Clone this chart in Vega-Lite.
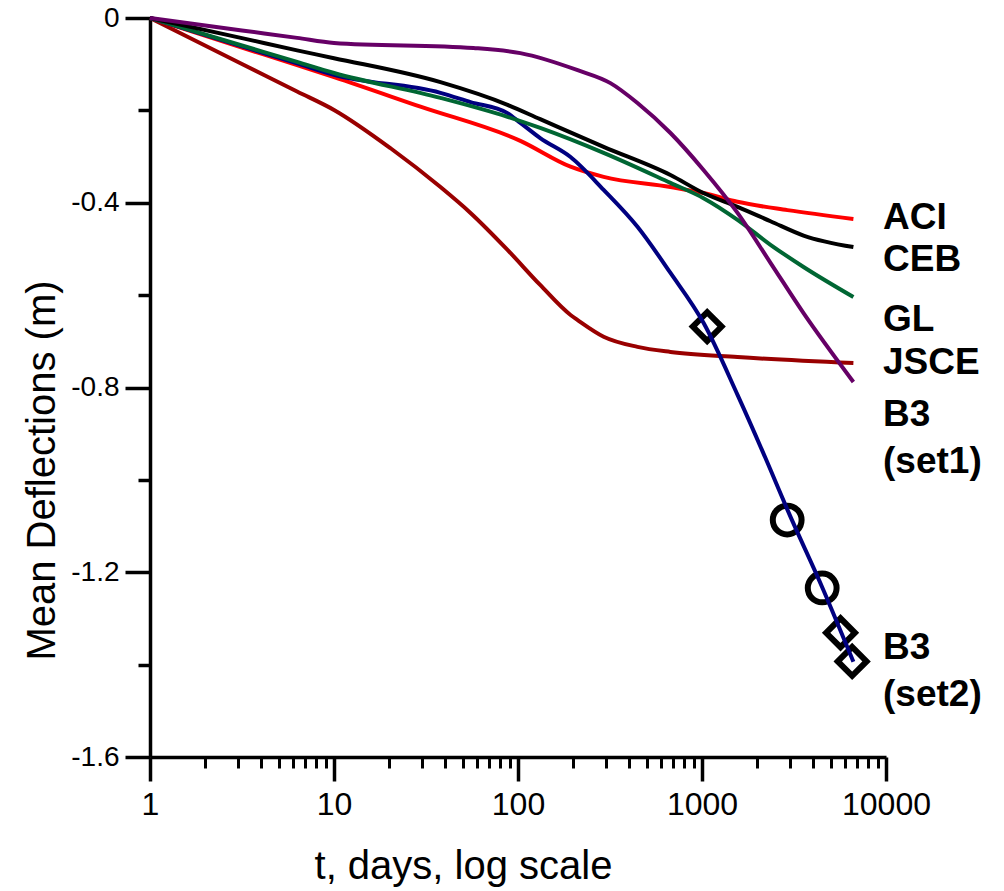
{
  "$schema": "https://vega.github.io/schema/vega-lite/v6.json",
  "width": 736,
  "height": 739,
  "autosize": "none",
  "padding": {"left": 150, "top": 18, "right": 118, "bottom": 134},
  "background": "white",
  "config": {
    "view": {"stroke": null},
    "font": "Liberation Sans",
    "axis": {"grid": false, "domainColor": "black", "tickColor": "black", "labelColor": "black", "titleColor": "black", "labelFont": "Liberation Sans", "titleFont": "Liberation Sans", "titleFontWeight": "normal"}
  },
  "datasets": {
    "curves": [
      {"s": "JSCE", "t": 1, "v": 0}, {"s": "JSCE", "t": 3.16, "v": -0.0995}, {"s": "JSCE", "t": 6.3, "v": -0.159}, {"s": "JSCE", "t": 10, "v": -0.199}, {"s": "JSCE", "t": 20.3, "v": -0.282}, {"s": "JSCE", "t": 37.9, "v": -0.366}, {"s": "JSCE", "t": 55.2, "v": -0.422}, {"s": "JSCE", "t": 87.7, "v": -0.502}, {"s": "JSCE", "t": 132, "v": -0.578}, {"s": "JSCE", "t": 193, "v": -0.643}, {"s": "JSCE", "t": 211, "v": -0.654}, {"s": "JSCE", "t": 292, "v": -0.69}, {"s": "JSCE", "t": 446, "v": -0.712}, {"s": "JSCE", "t": 674, "v": -0.723}, {"s": "JSCE", "t": 1560, "v": -0.734}, {"s": "JSCE", "t": 6650, "v": -0.747},
      {"s": "ACI", "t": 1, "v": 0}, {"s": "ACI", "t": 3.16, "v": -0.064}, {"s": "ACI", "t": 6.3, "v": -0.102}, {"s": "ACI", "t": 10, "v": -0.128}, {"s": "ACI", "t": 29.5, "v": -0.192}, {"s": "ACI", "t": 103, "v": -0.266}, {"s": "ACI", "t": 193, "v": -0.322}, {"s": "ACI", "t": 292, "v": -0.344}, {"s": "ACI", "t": 674, "v": -0.366}, {"s": "ACI", "t": 1019, "v": -0.379}, {"s": "ACI", "t": 1560, "v": -0.398}, {"s": "ACI", "t": 2915, "v": -0.416}, {"s": "ACI", "t": 6650, "v": -0.435},
      {"s": "B3 (set2)", "t": 1, "v": 0}, {"s": "B3 (set2)", "t": 3.16, "v": -0.0615}, {"s": "B3 (set2)", "t": 6.3, "v": -0.098}, {"s": "B3 (set2)", "t": 10, "v": -0.123}, {"s": "B3 (set2)", "t": 37.9, "v": -0.162}, {"s": "B3 (set2)", "t": 55.2, "v": -0.182}, {"s": "B3 (set2)", "t": 87.7, "v": -0.206}, {"s": "B3 (set2)", "t": 103, "v": -0.227}, {"s": "B3 (set2)", "t": 132, "v": -0.26}, {"s": "B3 (set2)", "t": 193, "v": -0.301}, {"s": "B3 (set2)", "t": 292, "v": -0.372}, {"s": "B3 (set2)", "t": 446, "v": -0.452}, {"s": "B3 (set2)", "t": 674, "v": -0.552}, {"s": "B3 (set2)", "t": 1019, "v": -0.66}, {"s": "B3 (set2)", "t": 1560, "v": -0.816}, {"s": "B3 (set2)", "t": 2356, "v": -0.978}, {"s": "B3 (set2)", "t": 2915, "v": -1.065}, {"s": "B3 (set2)", "t": 4518, "v": -1.234}, {"s": "B3 (set2)", "t": 6650, "v": -1.394},
      {"s": "GL", "t": 1, "v": 0}, {"s": "GL", "t": 3.16, "v": -0.0595}, {"s": "GL", "t": 6.3, "v": -0.095}, {"s": "GL", "t": 10, "v": -0.119}, {"s": "GL", "t": 37.9, "v": -0.173}, {"s": "GL", "t": 87.7, "v": -0.214}, {"s": "GL", "t": 132, "v": -0.238}, {"s": "GL", "t": 292, "v": -0.292}, {"s": "GL", "t": 674, "v": -0.357}, {"s": "GL", "t": 1019, "v": -0.39}, {"s": "GL", "t": 1560, "v": -0.437}, {"s": "GL", "t": 2356, "v": -0.491}, {"s": "GL", "t": 3563, "v": -0.539}, {"s": "GL", "t": 6650, "v": -0.604},
      {"s": "CEB", "t": 1, "v": 0}, {"s": "CEB", "t": 3.16, "v": -0.0435}, {"s": "CEB", "t": 6.3, "v": -0.07}, {"s": "CEB", "t": 10, "v": -0.087}, {"s": "CEB", "t": 37.9, "v": -0.139}, {"s": "CEB", "t": 87.7, "v": -0.188}, {"s": "CEB", "t": 132, "v": -0.219}, {"s": "CEB", "t": 292, "v": -0.279}, {"s": "CEB", "t": 674, "v": -0.34}, {"s": "CEB", "t": 1019, "v": -0.379}, {"s": "CEB", "t": 1560, "v": -0.409}, {"s": "CEB", "t": 2356, "v": -0.44}, {"s": "CEB", "t": 3563, "v": -0.471}, {"s": "CEB", "t": 6650, "v": -0.496},
      {"s": "B3 (set1)", "t": 1, "v": 0}, {"s": "B3 (set1)", "t": 3.16, "v": -0.027}, {"s": "B3 (set1)", "t": 6.3, "v": -0.043}, {"s": "B3 (set1)", "t": 10, "v": -0.054}, {"s": "B3 (set1)", "t": 57.3, "v": -0.065}, {"s": "B3 (set1)", "t": 103, "v": -0.076}, {"s": "B3 (set1)", "t": 211, "v": -0.113}, {"s": "B3 (set1)", "t": 318, "v": -0.141}, {"s": "B3 (set1)", "t": 446, "v": -0.184}, {"s": "B3 (set1)", "t": 674, "v": -0.249}, {"s": "B3 (set1)", "t": 1019, "v": -0.329}, {"s": "B3 (set1)", "t": 1560, "v": -0.422}, {"s": "B3 (set1)", "t": 2356, "v": -0.53}, {"s": "B3 (set1)", "t": 3563, "v": -0.639}, {"s": "B3 (set1)", "t": 6650, "v": -0.788}
    ],
    "markers": [
      {"m": "diamond", "t": 1067, "v": -0.668},
      {"m": "circle", "t": 2904, "v": -1.087},
      {"m": "circle", "t": 4500, "v": -1.234},
      {"m": "diamond", "t": 5660, "v": -1.331},
      {"m": "diamond", "t": 6548, "v": -1.393}
    ],
    "labels": [
      {"label": "ACI", "t": 10000, "v": -0.433},
      {"label": "CEB", "t": 10000, "v": -0.524},
      {"label": "GL", "t": 10000, "v": -0.654},
      {"label": "JSCE", "t": 10000, "v": -0.747},
      {"label": "B3", "t": 10000, "v": -0.859},
      {"label": "(set1)", "t": 10000, "v": -0.961},
      {"label": "B3", "t": 10000, "v": -1.364},
      {"label": "(set2)", "t": 10000, "v": -1.465}
    ]
  },
  "layer": [
    {
      "data": {"name": "markers"},
      "mark": {"type": "point", "filled": false, "stroke": "black", "strokeWidth": 6, "opacity": 1, "size": 830},
      "encoding": {
        "x": {"field": "t", "type": "quantitative", "scale": {"type": "log", "domain": [1, 10000], "nice": false},
          "axis": {"orient": "bottom", "values": [2, 3, 4, 5, 6, 7, 8, 9, 20, 30, 40, 50, 60, 70, 80, 90, 200, 300, 400, 500, 600, 700, 800, 900, 2000, 3000, 4000, 5000, 6000, 7000, 8000, 9000], "tickSize": 11, "tickWidth": 3, "labels": false, "domain": false, "title": null}},
        "y": {"field": "v", "type": "quantitative", "scale": {"domain": [-1.6, 0], "nice": false},
          "axis": {"orient": "left", "values": [-0.2, -0.6, -1.0, -1.4], "tickSize": 12, "tickWidth": 3.5, "labels": false, "domain": false, "title": null}},
        "shape": {"field": "m", "type": "nominal", "scale": {"domain": ["circle", "diamond"], "range": ["circle", "diamond"]}, "legend": null}
      }
    },
    {
      "data": {"name": "curves"},
      "mark": {"type": "line", "strokeWidth": 4, "interpolate": "monotone"},
      "encoding": {
        "x": {"field": "t", "type": "quantitative", "scale": {"type": "log", "domain": [1, 10000], "nice": false},
          "axis": {"orient": "bottom", "values": [1, 10, 100, 1000, 10000], "tickSize": 24, "tickWidth": 3.5, "domainWidth": 3.5, "labelFontSize": 32, "labelPadding": 8, "labelFlush": false, "labelOverlap": false, "labelExpr": "'' + datum.value",
            "title": "t, days, log scale", "titleFontSize": 40, "titleX": 313, "titleY": 121, "titleAlign": "center", "titleBaseline": "alphabetic"}},
        "y": {"field": "v", "type": "quantitative", "scale": {"domain": [-1.6, 0], "nice": false},
          "axis": {"orient": "left", "values": [0, -0.4, -0.8, -1.2, -1.6], "tickSize": 25, "tickWidth": 3.5, "domainWidth": 3.5, "labelFontSize": 28, "labelPadding": 6, "labelFlush": false, "labelOverlap": false, "labelExpr": "'' + datum.value",
            "title": "Mean Deflections (m)", "titleFontSize": 40, "titleX": -96, "titleY": 452, "titleAngle": -90, "titleAlign": "center", "titleBaseline": "alphabetic"}},
        "color": {"field": "s", "type": "nominal", "legend": null,
          "scale": {"domain": ["JSCE", "ACI", "B3 (set2)", "GL", "CEB", "B3 (set1)"], "range": ["#990000", "#ff0000", "#000080", "#006633", "#000000", "#660066"]}}
      }
    },
    {
      "data": {"name": "labels"},
      "mark": {"type": "text", "align": "left", "baseline": "middle", "fontSize": 37, "fontWeight": "bold", "dx": -3, "color": "black", "font": "Liberation Sans"},
      "encoding": {
        "x": {"field": "t", "type": "quantitative", "scale": {"type": "log", "domain": [1, 10000], "nice": false}, "axis": null},
        "y": {"field": "v", "type": "quantitative", "scale": {"domain": [-1.6, 0], "nice": false}, "axis": null},
        "text": {"field": "label"}
      }
    }
  ],
  "resolve": {"axis": {"x": "independent", "y": "independent"}}
}
